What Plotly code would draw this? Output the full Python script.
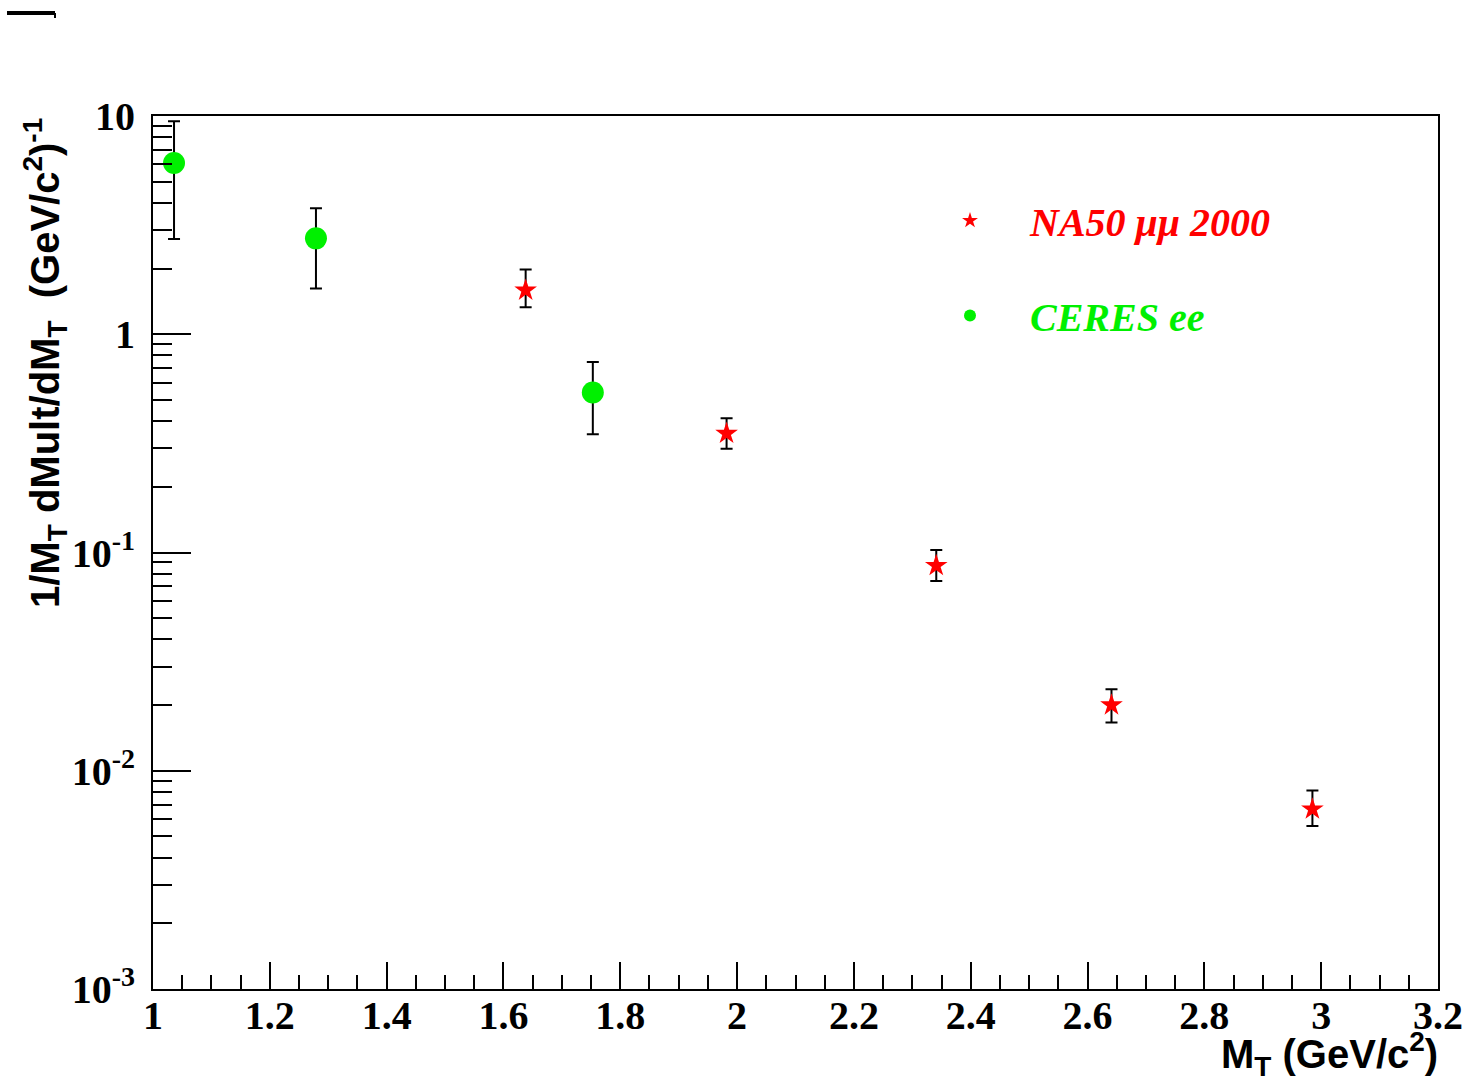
import plotly.graph_objects as go

# ---------------- data ----------------
na50_x = [1.638, 1.982, 2.341, 2.641, 2.985]
na50_y = [1.59, 0.351, 0.0870, 0.0200, 0.00667]
na50_hi = [1.98, 0.412, 0.1026, 0.02363, 0.00811]
na50_lo = [1.33, 0.299, 0.0741, 0.01663, 0.00559]

ceres_x = [1.036, 1.279, 1.753]
ceres_y = [6.09, 2.75, 0.541]
ceres_hi = [9.46, 3.78, 0.747]
ceres_lo = [2.73, 1.62, 0.348]

y_major = [0.001, 0.01, 0.1, 1, 10]
y_major_text = ["10<sup>-3</sup>", "10<sup>-2</sup>", "10<sup>-1</sup>", "1", "10"]
y_minor = [m * d for d in [0.001, 0.01, 0.1, 1] for m in range(2, 10)]

series_names = ["NA50 \u03bc\u03bc 2000", "CERES ee"]
red = "#ff0000"
green = "#00f000"

# ---------------- figure ----------------
W, H = 1465, 1079
ml, mr, mt, mb = 153, 27, 116, 90

fig = go.Figure()

def err(y, hi, lo):
    return dict(type="data", symmetric=False,
                array=[h - v for h, v in zip(hi, y)],
                arrayminus=[v - l for v, l in zip(y, lo)],
                color="black", thickness=2, width=6)

fig.add_trace(go.Scatter(
    x=na50_x, y=na50_y, mode="markers",
    name=f"<span style='color:{red}'>{series_names[0]}</span>",
    legendgroup="a",
    marker=dict(symbol="star", size=17, color=red, line=dict(width=0)),
    error_y=err(na50_y, na50_hi, na50_lo),
))
fig.add_trace(go.Scatter(
    x=ceres_x, y=ceres_y, mode="markers",
    name=f"<span style='color:{green}'>{series_names[1]}</span>",
    legendgroup="b",
    marker=dict(symbol="circle", size=22, color=green, line=dict(width=0)),
    error_y=err(ceres_y, ceres_hi, ceres_lo),
))

tickfont = dict(family="Liberation Serif", size=40, color="black", weight="bold")

fig.update_xaxes(
    range=[1, 3.2], tickmode="linear", tick0=1, dtick=0.2,
    ticks="inside", ticklen=27, tickwidth=2, tickcolor="black",
    minor=dict(tickmode="linear", tick0=1, dtick=0.05, ticks="inside",
               ticklen=14, tickwidth=2, tickcolor="black", showgrid=False),
    showline=True, linecolor="black", linewidth=2, mirror=True,
    showgrid=False, zeroline=False, tickfont=tickfont,
    automargin=False, ticklabelstandoff=-10,
)
fig.update_yaxes(
    type="log", range=[-3, 1], tickmode="array",
    tickvals=y_major, ticktext=y_major_text,
    ticks="inside", ticklen=38, tickwidth=2, tickcolor="black",
    minor=dict(tickmode="array", tickvals=y_minor, ticks="inside",
               ticklen=19, tickwidth=2, tickcolor="black", showgrid=False),
    showline=True, linecolor="black", linewidth=2, mirror=True,
    showgrid=False, zeroline=False, tickfont=tickfont,
    automargin=False, ticklabelstandoff=8,
)

plot_w = W - ml - mr
plot_h = H - mt - mb

def px_x(p):
    return (p - ml) / plot_w

def px_y(p):
    return (H - mb - p) / plot_h

titlefont = dict(family="Liberation Sans", size=40, color="black", weight="bold")

fig.add_annotation(
    text="1/M<sub>T</sub> dMult/dM<sub>T</sub>  (GeV/c<sup>2</sup>)<sup>-1</sup>",
    xref="paper", yref="paper", x=px_x(45), y=px_y(363),
    xanchor="center", yanchor="middle", textangle=-90,
    showarrow=False, font=titlefont,
)
fig.add_annotation(
    text="M<sub>T</sub> (GeV/c<sup>2</sup>)",
    xref="paper", yref="paper", x=px_x(1440), y=px_y(1054),
    xanchor="right", yanchor="middle",
    showarrow=False, font=titlefont,
)

# stray mark at the top left corner of the canvas
fig.add_shape(type="line", xref="paper", yref="paper",
              x0=px_x(7), x1=px_x(55), y0=px_y(13), y1=px_y(13),
              line=dict(color="black", width=4))
fig.add_shape(type="line", xref="paper", yref="paper",
              x0=px_x(55), x1=px_x(55), y0=px_y(13), y1=px_y(18),
              line=dict(color="black", width=2))

fig.update_layout(
    width=W, height=H,
    margin=dict(l=ml, r=mr, t=mt, b=mb, autoexpand=False),
    paper_bgcolor="white", plot_bgcolor="white",
    showlegend=True,
    legend=dict(
        x=px_x(910), y=px_y(188), xanchor="left", yanchor="top",
        bgcolor="rgba(0,0,0,0)", borderwidth=0,
        font=dict(family="Liberation Serif", size=40, weight="bold", style="italic"),
        itemwidth=110, tracegroupgap=40, itemsizing="constant",
    ),
)

fig.write_html("out.html")
